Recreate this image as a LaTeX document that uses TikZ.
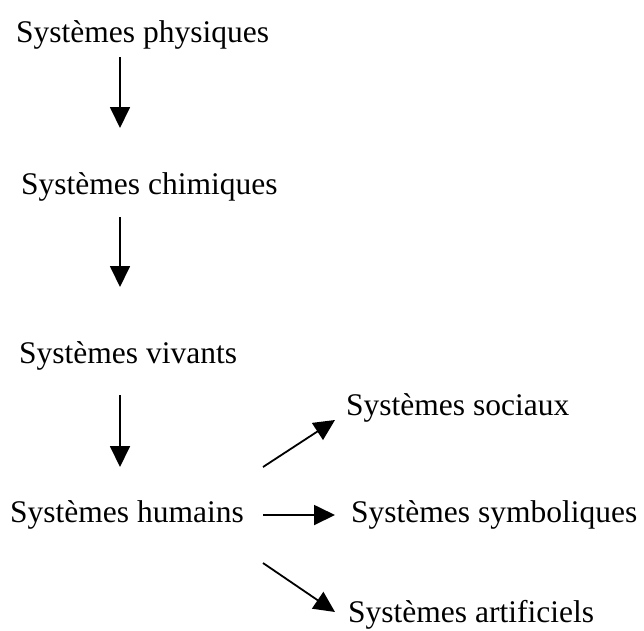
\documentclass[tikz,border=0pt]{standalone}
\usepackage{fontspec}
\setmainfont{Liberation Serif}
\usetikzlibrary{arrows.meta}
\tikzset{
  lbl/.style={anchor=base west, inner sep=0pt, font=\fontsize{31.5}{38}\selectfont},
  arr/.style={line width=1.8pt, -{Triangle[length=21pt,width=20pt]}}
}
\begin{document}
\begin{tikzpicture}[x=1pt,y=-1pt]
\useasboundingbox (0,0) rectangle (644,630);
\node[lbl] (phys) at (16,42) {Systèmes physiques};
\node[lbl] (chim) at (21,194) {Systèmes chimiques};
\node[lbl] (viv) at (19,363) {Systèmes vivants};
\node[lbl] (hum) at (10,522) {Systèmes humains};
\node[lbl] (soc) at (346,415) {Systèmes sociaux};
\node[lbl] (sym) at (351,522) {Systèmes symboliques};
\node[lbl] (art) at (348,622) {Systèmes artificiels};
\draw[arr] ([shift={(104,15)}]phys.base west) -- ([shift={(99,-66)}]chim.base west);
\draw[arr] ([shift={(99,23)}]chim.base west) -- ([shift={(101,-76)}]viv.base west);
\draw[arr] ([shift={(101,32)}]viv.base west) -- ([shift={(110,-55)}]hum.base west);
\draw[arr] ([shift={(253,-7)}]hum.base west) -- ([shift={(-16,-7)}]sym.base west);
\draw[arr] ([shift={(253,-55)}]hum.base west) -- ([shift={(-11,5)}]soc.base west);
\draw[arr] ([shift={(253,41)}]hum.base west) -- ([shift={(-13,-10)}]art.base west);
\end{tikzpicture}
\end{document}
